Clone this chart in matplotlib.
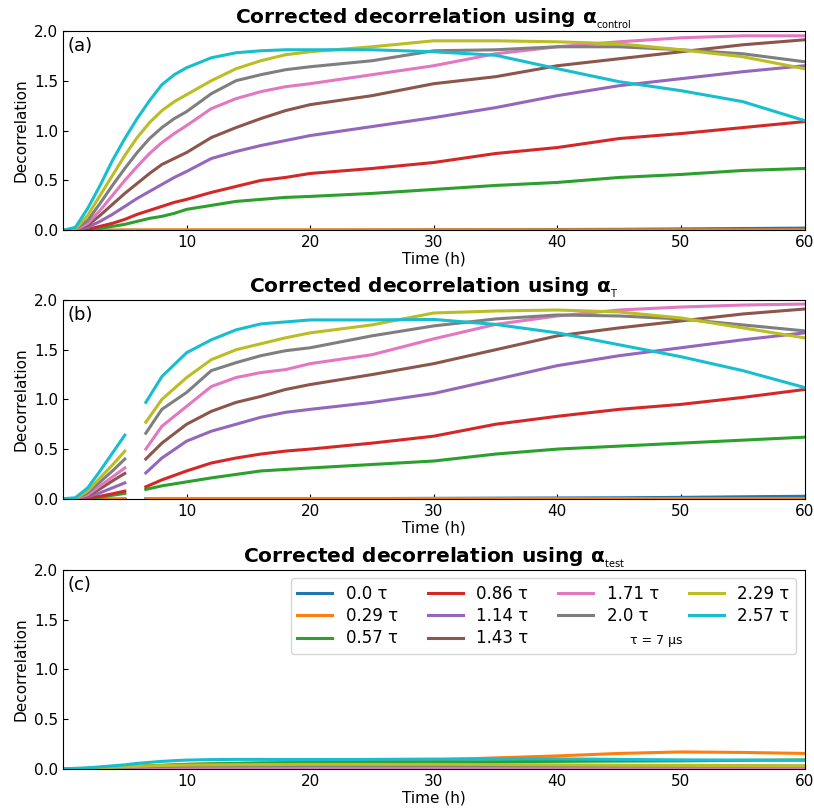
import numpy as np
import matplotlib
matplotlib.use("Agg")
import matplotlib.pyplot as plt

# time grids (h)
t_a = [0, 1, 2, 3, 4, 5, 6, 7, 8, 9, 10, 12, 14, 16, 18, 20, 25, 30, 35, 40, 45, 50, 55, 60]
t_b_early = [0, 1, 2, 3, 4, 5]
t_b_late = [6.7, 8, 10, 12, 14, 16, 18, 20, 25, 30, 35, 40, 45, 50, 55, 60]
t_c = t_a

labels = ["0.0 τ", "0.29 τ", "0.57 τ", "0.86 τ", "1.14 τ",
          "1.43 τ", "1.71 τ", "2.0 τ", "2.29 τ", "2.57 τ"]

# (a) alpha_control
a_00 = [0, 0, 0, 0, 0, 0, 0, 0, 0, 0, 0, 0, 0, 0, 0, 0, 0.002, 0.004, 0.006, 0.008, 0.01, 0.014, 0.018, 0.022]
a_029 = [0, 0, 0, 0.002, 0.003, 0.004, 0.004, 0.005, 0.005, 0.005, 0.005, 0.005, 0.005, 0.005, 0.005, 0.005, 0.005, 0.005, 0.005, 0.005, 0.005, 0.005, 0.005, 0.005]
a_057 = [0, 0, 0.01, 0.02, 0.04, 0.06, 0.09, 0.12, 0.14, 0.17, 0.21, 0.25, 0.29, 0.31, 0.33, 0.34, 0.37, 0.41, 0.45, 0.48, 0.53, 0.56, 0.60, 0.62]
a_086 = [0, 0, 0.01, 0.04, 0.07, 0.11, 0.16, 0.20, 0.24, 0.28, 0.31, 0.38, 0.44, 0.50, 0.53, 0.57, 0.62, 0.68, 0.77, 0.83, 0.92, 0.97, 1.03, 1.09]
a_114 = [0, 0, 0.03, 0.09, 0.16, 0.24, 0.32, 0.39, 0.46, 0.53, 0.59, 0.72, 0.79, 0.85, 0.90, 0.95, 1.04, 1.13, 1.23, 1.35, 1.45, 1.52, 1.59, 1.65]
a_143 = [0, 0, 0.05, 0.15, 0.26, 0.37, 0.47, 0.57, 0.66, 0.72, 0.78, 0.93, 1.03, 1.12, 1.20, 1.26, 1.35, 1.47, 1.54, 1.65, 1.72, 1.79, 1.86, 1.91]
a_171 = [0, 0, 0.07, 0.20, 0.35, 0.50, 0.64, 0.77, 0.88, 0.97, 1.05, 1.22, 1.32, 1.39, 1.44, 1.47, 1.56, 1.65, 1.77, 1.84, 1.89, 1.93, 1.95, 1.95]
a_200 = [0, 0.01, 0.10, 0.27, 0.45, 0.62, 0.78, 0.92, 1.03, 1.12, 1.19, 1.37, 1.50, 1.56, 1.61, 1.64, 1.70, 1.80, 1.81, 1.84, 1.84, 1.81, 1.77, 1.69]
a_229 = [0, 0.01, 0.15, 0.35, 0.55, 0.75, 0.93, 1.08, 1.20, 1.29, 1.36, 1.50, 1.62, 1.70, 1.76, 1.79, 1.84, 1.90, 1.90, 1.89, 1.87, 1.81, 1.74, 1.62]
a_257 = [0, 0.03, 0.22, 0.45, 0.70, 0.92, 1.12, 1.30, 1.46, 1.56, 1.63, 1.73, 1.78, 1.80, 1.81, 1.81, 1.81, 1.79, 1.755, 1.62, 1.49, 1.40, 1.29, 1.10]

# (b) alpha_T, early segment (0-5 h)
be_00 = [0, 0, 0, 0, 0, 0]
be_029 = [0, 0, 0, 0, 0, 0.002]
be_057 = [0, 0, 0.005, 0.015, 0.035, 0.054]
be_086 = [0, 0, 0.01, 0.025, 0.05, 0.077]
be_114 = [0, 0, 0.02, 0.06, 0.11, 0.16]
be_143 = [0, 0, 0.03, 0.10, 0.18, 0.255]
be_171 = [0, 0, 0.04, 0.13, 0.22, 0.31]
be_200 = [0, 0, 0.06, 0.17, 0.28, 0.40]
be_229 = [0, 0, 0.08, 0.21, 0.34, 0.48]
be_257 = [0, 0.01, 0.11, 0.28, 0.46, 0.64]

# (b) alpha_T, late segment (6.7-60 h)
bl_00 = [0, 0, 0, 0, 0, 0, 0, 0, 0.002, 0.004, 0.006, 0.008, 0.01, 0.014, 0.02, 0.025]
bl_029 = [0.005, 0.005, 0.005, 0.005, 0.005, 0.005, 0.005, 0.005, 0.005, 0.005, 0.005, 0.005, 0.005, 0.005, 0.005, 0.005]
bl_057 = [0.094, 0.13, 0.17, 0.21, 0.245, 0.28, 0.295, 0.31, 0.345, 0.38, 0.45, 0.50, 0.53, 0.56, 0.59, 0.62]
bl_086 = [0.12, 0.19, 0.28, 0.36, 0.41, 0.45, 0.48, 0.50, 0.56, 0.63, 0.75, 0.83, 0.90, 0.95, 1.02, 1.10]
bl_114 = [0.26, 0.41, 0.58, 0.68, 0.75, 0.82, 0.87, 0.90, 0.97, 1.06, 1.20, 1.34, 1.44, 1.52, 1.60, 1.67]
bl_143 = [0.40, 0.56, 0.75, 0.88, 0.97, 1.03, 1.10, 1.15, 1.25, 1.36, 1.50, 1.64, 1.72, 1.79, 1.86, 1.91]
bl_171 = [0.50, 0.73, 0.93, 1.13, 1.22, 1.27, 1.30, 1.36, 1.45, 1.61, 1.755, 1.84, 1.90, 1.93, 1.95, 1.96]
bl_200 = [0.66, 0.90, 1.07, 1.29, 1.37, 1.44, 1.49, 1.52, 1.64, 1.74, 1.81, 1.85, 1.84, 1.81, 1.75, 1.69]
bl_229 = [0.77, 1.00, 1.22, 1.40, 1.50, 1.56, 1.62, 1.67, 1.75, 1.87, 1.89, 1.90, 1.88, 1.82, 1.72, 1.62]
bl_257 = [0.97, 1.23, 1.47, 1.60, 1.70, 1.76, 1.78, 1.80, 1.80, 1.805, 1.755, 1.67, 1.55, 1.43, 1.29, 1.12]

# (c) alpha_test
c_00 = [0, 0, 0, 0.001, 0.002, 0.002, 0.003, 0.003, 0.004, 0.004, 0.005, 0.005, 0.005, 0.005, 0.005, 0.005, 0.005, 0.005, 0.005, 0.005, 0.005, 0.005, 0.005, 0.005]
c_029 = [0, 0, 0.005, 0.01, 0.015, 0.02, 0.025, 0.03, 0.035, 0.04, 0.045, 0.05, 0.055, 0.06, 0.062, 0.065, 0.075, 0.09, 0.11, 0.13, 0.155, 0.17, 0.165, 0.155]
c_057 = [0, 0, 0.005, 0.01, 0.015, 0.02, 0.025, 0.03, 0.035, 0.04, 0.045, 0.05, 0.055, 0.058, 0.06, 0.062, 0.066, 0.07, 0.072, 0.075, 0.078, 0.08, 0.085, 0.09]
c_086 = [0, 0, 0.002, 0.004, 0.006, 0.008, 0.01, 0.011, 0.012, 0.013, 0.014, 0.015, 0.016, 0.017, 0.018, 0.018, 0.019, 0.02, 0.02, 0.02, 0.02, 0.02, 0.02, 0.02]
c_114 = [0, 0, 0.003, 0.006, 0.009, 0.012, 0.014, 0.016, 0.018, 0.02, 0.021, 0.022, 0.023, 0.024, 0.025, 0.025, 0.026, 0.027, 0.027, 0.027, 0.026, 0.025, 0.024, 0.023]
c_143 = [0, 0, 0.003, 0.006, 0.009, 0.012, 0.015, 0.017, 0.019, 0.021, 0.022, 0.023, 0.024, 0.025, 0.026, 0.026, 0.027, 0.028, 0.028, 0.028, 0.027, 0.026, 0.025, 0.024]
c_171 = [0, 0, 0.002, 0.003, 0.004, 0.005, 0.006, 0.007, 0.008, 0.009, 0.01, 0.01, 0.01, 0.01, 0.01, 0.01, 0.01, 0.01, 0.01, 0.01, 0.01, 0.01, 0.01, 0.01]
c_200 = [0, 0, 0.004, 0.008, 0.012, 0.016, 0.019, 0.022, 0.024, 0.026, 0.028, 0.03, 0.031, 0.032, 0.032, 0.033, 0.033, 0.033, 0.032, 0.031, 0.03, 0.029, 0.028, 0.027]
c_229 = [0, 0.002, 0.005, 0.01, 0.015, 0.02, 0.025, 0.03, 0.033, 0.035, 0.038, 0.04, 0.042, 0.043, 0.044, 0.045, 0.045, 0.045, 0.043, 0.04, 0.037, 0.035, 0.032, 0.03]
c_257 = [0, 0.005, 0.01, 0.02, 0.03, 0.04, 0.055, 0.065, 0.075, 0.082, 0.088, 0.093, 0.095, 0.095, 0.094, 0.094, 0.095, 0.098, 0.10, 0.10, 0.095, 0.09, 0.088, 0.085]

panel_a = [a_00, a_029, a_057, a_086, a_114, a_143, a_171, a_200, a_229, a_257]
panel_b_early = [be_00, be_029, be_057, be_086, be_114, be_143, be_171, be_200, be_229, be_257]
panel_b_late = [bl_00, bl_029, bl_057, bl_086, bl_114, bl_143, bl_171, bl_200, bl_229, bl_257]
panel_c = [c_00, c_029, c_057, c_086, c_114, c_143, c_171, c_200, c_229, c_257]

colors = plt.rcParams['axes.prop_cycle'].by_key()['color']

fig = plt.figure(figsize=(8.14, 8.11), dpi=100)
rects = [[0.0774, 0.716, 0.911, 0.246],
         [0.0774, 0.385, 0.911, 0.245],
         [0.0774, 0.052, 0.911, 0.245]]
axes = [fig.add_axes(r) for r in rects]

lw = 2.2
for i in range(10):
    axes[0].plot(t_a, panel_a[i], color=colors[i], lw=lw)
    axes[1].plot(t_b_early, panel_b_early[i], color=colors[i], lw=lw)
    axes[1].plot(t_b_late, panel_b_late[i], color=colors[i], lw=lw)
    axes[2].plot(t_c, panel_c[i], color=colors[i], lw=lw, label=labels[i])

titles = [r"Corrected decorrelation using α$_{_{\rm control}}$",
          r"Corrected decorrelation using α$_{_{\rm T}}$",
          r"Corrected decorrelation using α$_{_{\rm test}}$"]
tags = ["(a)", "(b)", "(c)"]

for ax, title, tag in zip(axes, titles, tags):
    ax.set_xlim(0, 60)
    ax.set_ylim(0, 2.0)
    ax.set_xticks([10, 20, 30, 40, 50, 60])
    ax.set_yticks([0.0, 0.5, 1.0, 1.5, 2.0])
    ax.set_yticklabels(["0.0", "0.5", "1.0", "1.5", "2.0"])
    ax.tick_params(direction='in', labelsize=11)
    ax.set_xlabel("Time (h)", fontsize=11, labelpad=1)
    ax.set_ylabel("Decorrelation", fontsize=11)
    ax.set_title(title, fontsize=14.5, fontweight='bold', pad=3)
    ax.text(0.006, 0.97, tag, transform=ax.transAxes, fontsize=13, va='top', ha='left')

leg = axes[2].legend(loc='upper right', ncol=4, fontsize=12, handlelength=2.1,
                     columnspacing=1.8, labelspacing=0.25, borderaxespad=0.5)
axes[2].text(0.80, 0.645, "τ = 7 μs", transform=axes[2].transAxes, fontsize=9,
             ha='center', va='center', zorder=10)

fig.savefig("out.png", dpi=100)
